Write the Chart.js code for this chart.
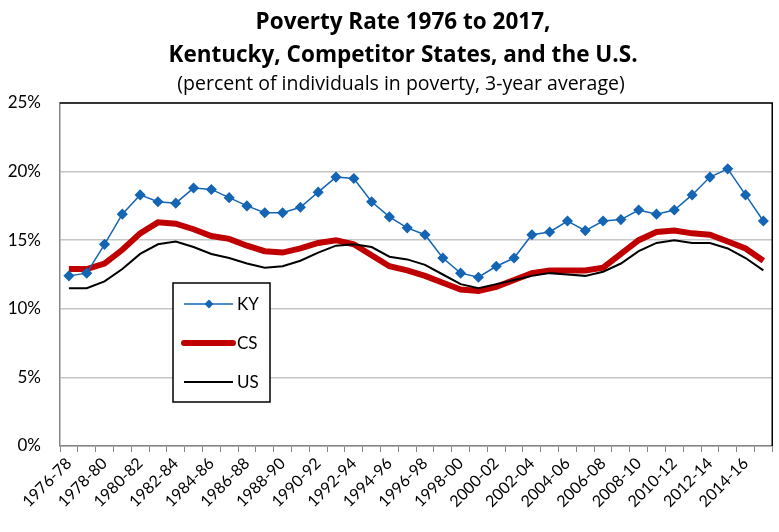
<!DOCTYPE html>
<html lang="en">
<head>
    <meta charset="UTF-8">
    <title>Poverty Rate 1976 to 2017</title>
    <script src="https://cdn.jsdelivr.net/npm/chart.js@4.4.0/dist/chart.umd.min.js"></script>
    <style>
        body { margin: 0; background: #fff; }
        #wrap { width: 779px; height: 532px; }
    </style>
</head>
<body>
    <div id="wrap"><canvas id="povChart"></canvas></div>
    <script>
        // 3-year periods
        const periods = [
            '1976-78','1977-79','1978-80','1979-81','1980-82','1981-83','1982-84','1983-85','1984-86','1985-87',
            '1986-88','1987-89','1988-90','1989-91','1990-92','1991-93','1992-94','1993-95','1994-96','1995-97',
            '1996-98','1997-99','1998-00','1999-01','2000-02','2001-03','2002-04','2003-05','2004-06','2005-07',
            '2006-08','2007-09','2008-10','2009-11','2010-12','2011-13','2012-14','2013-15','2014-16','2015-17'
        ];

        // percent of individuals in poverty
        const kyValues = [
            12.4, 12.6, 14.7, 16.9, 18.3, 17.8, 17.7, 18.8, 18.7, 18.1,
            17.5, 17.0, 17.0, 17.4, 18.5, 19.6, 19.5, 17.8, 16.7, 15.9,
            15.4, 13.7, 12.6, 12.3, 13.1, 13.7, 15.4, 15.6, 16.4, 15.7,
            16.4, 16.5, 17.2, 16.9, 17.2, 18.3, 19.6, 20.2, 18.3, 16.4
        ];
        const csValues = [
            12.9, 12.9, 13.3, 14.3, 15.5, 16.3, 16.2, 15.8, 15.3, 15.1,
            14.6, 14.2, 14.1, 14.4, 14.8, 15.0, 14.7, 13.9, 13.1, 12.8,
            12.4, 11.9, 11.4, 11.3, 11.6, 12.1, 12.6, 12.8, 12.8, 12.8,
            13.0, 14.0, 15.0, 15.6, 15.7, 15.5, 15.4, 14.9, 14.4, 13.5
        ];
        const usValues = [
            11.5, 11.5, 12.0, 12.9, 14.0, 14.7, 14.9, 14.5, 14.0, 13.7,
            13.3, 13.0, 13.1, 13.5, 14.1, 14.6, 14.7, 14.5, 13.8, 13.6,
            13.2, 12.5, 11.8, 11.5, 11.8, 12.1, 12.4, 12.6, 12.5, 12.4,
            12.7, 13.3, 14.2, 14.8, 15.0, 14.8, 14.8, 14.4, 13.7, 12.8
        ];
        const yTicks = [0, 5, 10, 15, 20, 25];

        const FONT = 'Lato, "Open Sans", sans-serif';
        const TITLE_FONT = '"Open Sans", Lato, sans-serif';

        // title text, drawn above the plot
        const titlePlugin = {
            id: 'titleText',
            afterDraw(chart) {
                const ctx = chart.ctx;
                ctx.save();
                ctx.fillStyle = '#000';
                ctx.textAlign = 'center';
                ctx.textBaseline = 'alphabetic';
                ctx.font = 'bold 22.5px ' + TITLE_FONT;
                ctx.fillText('Poverty Rate 1976 to 2017,', 403, 28.5);
                ctx.fillText('Kentucky, Competitor States, and the U.S.', 403, 62);
                ctx.font = '19.5px ' + TITLE_FONT;
                ctx.fillText('(percent of individuals in poverty, 3-year average)', 401, 90);
                ctx.restore();
            }
        };

        // black frame on top/right, boxed legend inside the plot
        const framePlugin = {
            id: 'frameLegend',
            afterDraw(chart) {
                const ctx = chart.ctx;
                const a = chart.chartArea;
                ctx.save();
                ctx.strokeStyle = '#000';
                ctx.lineWidth = 1.5;
                ctx.beginPath();
                ctx.moveTo(a.left, a.top);
                ctx.lineTo(a.right, a.top);
                ctx.lineTo(a.right, a.bottom);
                ctx.stroke();

                // legend box
                const bx = 173, by = 283, bw = 97, bh = 119;
                ctx.fillStyle = '#fff';
                ctx.fillRect(bx, by, bw, bh);
                ctx.lineWidth = 1.5;
                ctx.strokeRect(bx, by, bw, bh);
                const rows = [304, 343, 382];
                chart.data.datasets.forEach((ds, i) => {
                    const y = rows[i];
                    ctx.strokeStyle = ds.borderColor;
                    ctx.lineWidth = ds.borderWidth;
                    ctx.lineCap = ds.borderWidth > 3 ? 'round' : 'butt';
                    ctx.beginPath();
                    ctx.moveTo(184, y);
                    ctx.lineTo(233, y);
                    ctx.stroke();
                    if (ds.pointRadius > 0) {
                        ctx.fillStyle = ds.pointBackgroundColor;
                        ctx.beginPath();
                        ctx.moveTo(209, y - 4.5);
                        ctx.lineTo(213.5, y);
                        ctx.lineTo(209, y + 4.5);
                        ctx.lineTo(204.5, y);
                        ctx.closePath();
                        ctx.fill();
                    }
                    ctx.fillStyle = '#000';
                    ctx.font = '17px ' + FONT;
                    ctx.textAlign = 'left';
                    ctx.textBaseline = 'middle';
                    ctx.fillText(ds.label, 237, y + 1);
                });
                ctx.restore();
            }
        };

        new Chart(document.getElementById('povChart').getContext('2d'), {
            type: 'line',
            data: {
                labels: periods,
                datasets: [
                    {
                        label: 'KY',
                        data: kyValues,
                        borderColor: '#1565B5',
                        backgroundColor: '#1565B5',
                        pointBackgroundColor: '#1565B5',
                        pointBorderColor: '#1565B5',
                        borderWidth: 1.5,
                        pointStyle: 'rectRot',
                        pointRadius: 4.5,
                        tension: 0,
                        order: 1
                    },
                    {
                        label: 'CS',
                        data: csValues,
                        borderColor: '#C00000',
                        backgroundColor: '#C00000',
                        borderWidth: 6,
                        pointRadius: 0,
                        tension: 0,
                        order: 3
                    },
                    {
                        label: 'US',
                        data: usValues,
                        borderColor: '#000000',
                        backgroundColor: '#000000',
                        borderWidth: 2,
                        pointRadius: 0,
                        tension: 0,
                        order: 2
                    }
                ]
            },
            options: {
                responsive: true,
                maintainAspectRatio: false,
                animation: false,
                layout: { padding: { top: 103, right: 1, left: 0, bottom: 0 } },
                plugins: {
                    legend: { display: false },
                    title: { display: false },
                    tooltip: { enabled: false }
                },
                scales: {
                    x: {
                        offset: true,
                        afterFit: (scale) => { scale.height = 86; },
                        grid: {
                            display: true,
                            drawOnChartArea: false,
                            drawTicks: true,
                            tickLength: 6,
                            offset: true,
                            color: '#868686'
                        },
                        border: { color: '#868686', width: 1.5 },
                        ticks: {
                            autoSkip: false,
                            maxRotation: 45,
                            minRotation: 45,
                            padding: 2,
                            color: '#000',
                            font: { family: FONT, size: 16 },
                            callback: function (v, i) { return i % 2 === 0 ? periods[i] : ''; }
                        }
                    },
                    y: {
                        min: 0,
                        max: 25,
                        afterFit: (scale) => { scale.width = 60; },
                        afterBuildTicks: (scale) => { scale.ticks = yTicks.map(v => ({ value: v })); },
                        grid: { color: '#c6c6c6', lineWidth: 1.5, drawTicks: false },
                        border: { color: '#868686', width: 1.5 },
                        ticks: {
                            padding: 19,
                            color: '#000',
                            font: { family: FONT, size: 17 },
                            callback: (v) => v + '%'
                        }
                    }
                }
            },
            plugins: [titlePlugin, framePlugin]
        });
    </script>
</body>
</html>
